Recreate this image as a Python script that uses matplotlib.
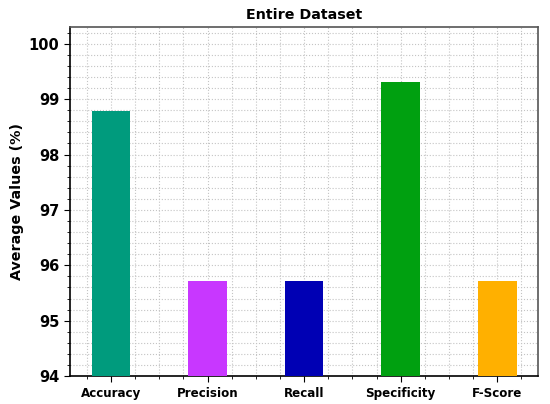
import matplotlib
matplotlib.use("Agg")
import matplotlib.pyplot as plt
from matplotlib.ticker import MultipleLocator

categories = ["Accuracy", "Precision", "Recall", "Specificity", "F-Score"]
values = [98.79, 95.72, 95.72, 99.31, 95.72]
colors = ["#009B7D", "#C837FF", "#0000B4", "#00A010", "#FFB000"]

fig, ax = plt.subplots(figsize=(5.5, 4.04), dpi=100)
fig.subplots_adjust(left=0.128, right=0.978, top=0.933, bottom=0.069)

x = list(range(len(categories)))
ax.bar(x, values, width=0.4, color=colors, zorder=3)
ax.set_xticks(x)
ax.set_xticklabels(categories, fontweight="bold", fontsize=8.6)
ax.set_xlim(-0.42, 4.42)
ax.set_ylim(94, 100.3)
ax.yaxis.set_major_locator(MultipleLocator(1))
ax.yaxis.set_minor_locator(MultipleLocator(0.2))
ax.xaxis.set_minor_locator(MultipleLocator(0.25))
for lab in ax.get_yticklabels():
    lab.set_fontweight("bold")
ax.tick_params(axis="y", labelsize=10.5)
ax.tick_params(which="major", length=4.5)
ax.tick_params(which="minor", length=2.5)
ax.grid(True, which="both", linestyle=":", color="#c4c4c4", linewidth=0.8, zorder=0)
ax.set_axisbelow(True)
ax.set_ylabel("Average Values (%)", fontweight="bold", fontsize=10.3, labelpad=3)
ax.set_title("Entire Dataset", fontweight="bold", fontsize=10.3)
for s in ax.spines.values():
    s.set_linewidth(1.2)
for s in ["top", "right"]:
    ax.spines[s].set_color("#555555")

fig.savefig("out.png", dpi=100)
